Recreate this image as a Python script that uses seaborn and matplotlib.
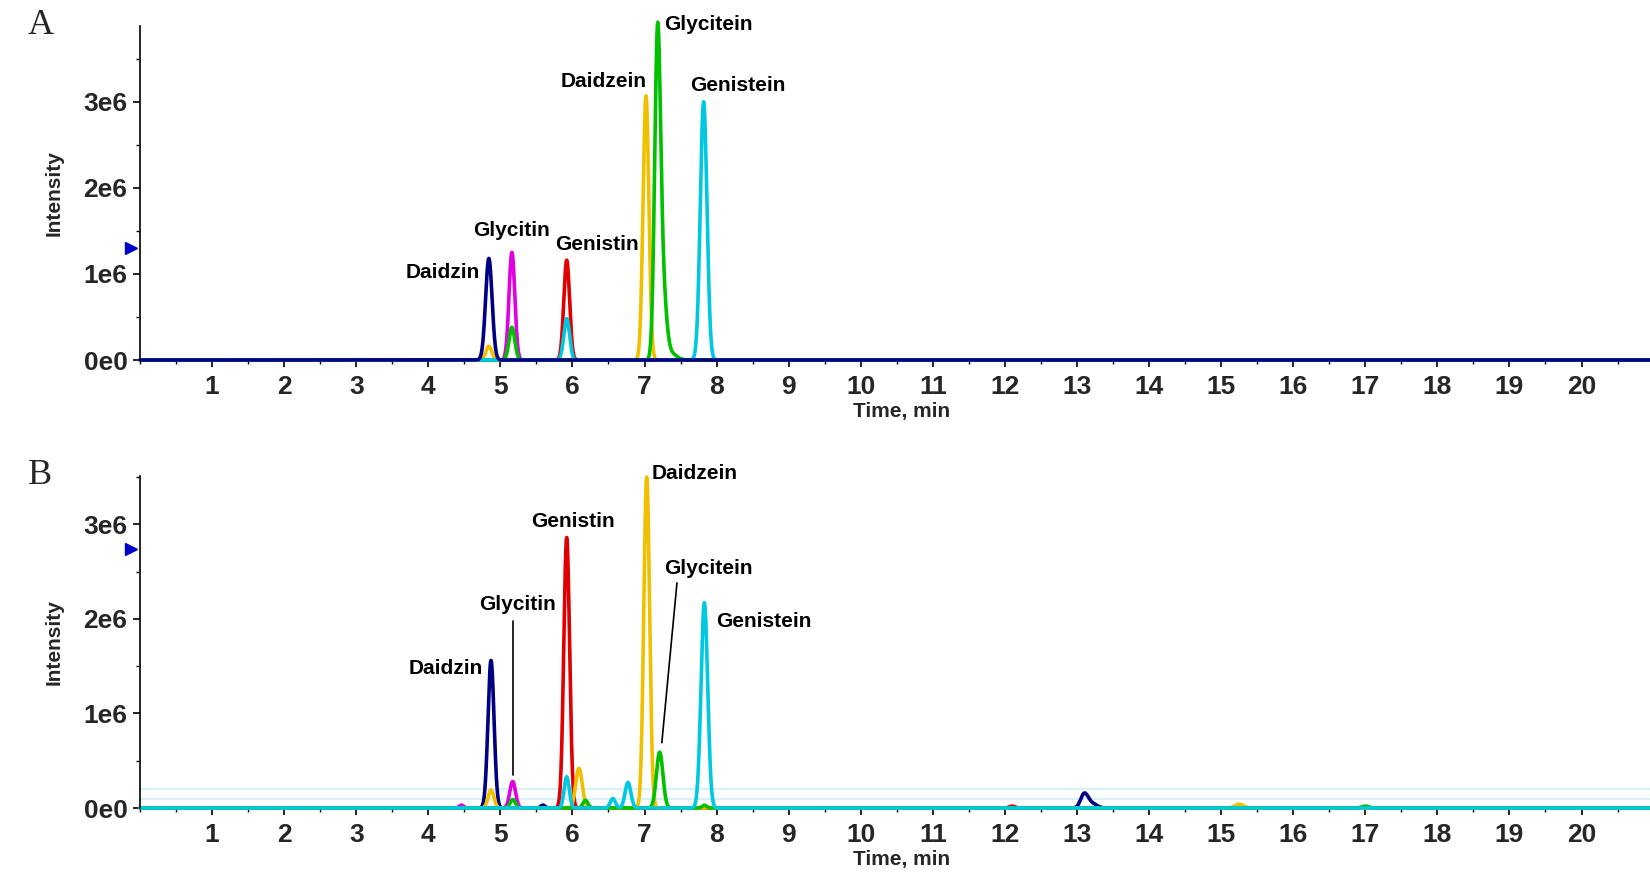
import numpy as np
import pandas as pd
import matplotlib
matplotlib.use("Agg")
import matplotlib.pyplot as plt
import seaborn as sns
from matplotlib.ticker import MultipleLocator

# ---------------- data ----------------
channels = ["Daidzin", "Glycitin", "Genistin", "Daidzein", "Glycitein", "Genistein"]
colors = {"Daidzin": "#000080", "Glycitin": "#e000e0", "Genistin": "#e00000",
          "Daidzein": "#f0c000", "Glycitein": "#00c000", "Genistein": "#00c8e0"}

# peaks per channel: (retention time [min], height, sigma [min])
peaks_A = {
    "Daidzin":   [(4.84, 1.18e6, 0.045)],
    "Glycitin":  [(5.16, 1.25e6, 0.040)],
    "Genistin":  [(5.92, 1.16e6, 0.040)],
    "Daidzein":  [(4.84, 0.16e6, 0.040), (7.02, 3.07e6, 0.040)],
    "Glycitein": [(5.16, 0.38e6, 0.040), (7.18, 3.60e6, 0.040), (7.25, 0.80e6, 0.050),
                  (7.36, 0.08e6, 0.080)],
    "Genistein": [(5.92, 0.48e6, 0.040), (7.82, 3.00e6, 0.046)],
}
peaks_B = {
    "Daidzin":   [(4.87, 1.56e6, 0.042), (5.59, 0.03e6, 0.03), (13.10, 0.14e6, 0.05),
                  (13.20, 0.05e6, 0.07)],
    "Glycitin":  [(4.46, 0.03e6, 0.03), (5.17, 0.28e6, 0.040)],
    "Genistin":  [(5.92, 2.86e6, 0.040), (12.10, 0.02e6, 0.04)],
    "Daidzein":  [(4.87, 0.19e6, 0.040), (6.09, 0.42e6, 0.045), (7.03, 3.50e6, 0.040),
                  (15.25, 0.04e6, 0.06)],
    "Glycitein": [(5.17, 0.09e6, 0.035), (6.18, 0.08e6, 0.035), (7.21, 0.59e6, 0.045),
                  (7.83, 0.03e6, 0.03), (17.00, 0.02e6, 0.05)],
    "Genistein": [(5.92, 0.33e6, 0.035), (6.56, 0.10e6, 0.035), (6.77, 0.27e6, 0.040),
                  (7.83, 2.17e6, 0.046)],
}

# labels: (text, x, y, ha)
labels_A = [("Daidzin", 4.72, 1.02e6, "right"), ("Glycitin", 5.15, 1.51e6, "center"),
            ("Genistin", 6.34, 1.34e6, "center"), ("Daidzein", 6.43, 3.23e6, "center"),
            ("Glycitein", 7.27, 3.90e6, "left"), ("Genistein", 8.30, 3.19e6, "center")]
labels_B = [("Daidzin", 4.76, 1.48e6, "right"), ("Glycitin", 5.24, 2.15e6, "center"),
            ("Genistin", 6.00, 3.03e6, "center"), ("Daidzein", 7.10, 3.54e6, "left"),
            ("Glycitein", 7.88, 2.53e6, "center"), ("Genistein", 8.00, 1.97e6, "left")]
leaders_B = [((5.17, 5.17), (1.98e6, 0.35e6)), ((7.45, 7.24), (2.38e6, 0.69e6))]

x_ticks = list(range(1, 21))
y_ticks = [0, 1e6, 2e6, 3e6]
y_tick_labels = ["0e0", "1e6", "2e6", "3e6"]
arrow_A, arrow_B = 1.30e6, 2.74e6
xmax = 20.95
ylim_A, ylim_B = 3.88e6, 3.51e6

# ---------------- build traces ----------------
t = np.linspace(0, xmax, 9000)

def trace(peaks):
    y = np.zeros_like(t)
    for c, h, s in peaks:
        y += h * np.exp(-0.5 * ((t - c) / s) ** 2)
    return y

def frame(peaks):
    rows = []
    for ch in channels:
        rows.append(pd.DataFrame({"time": t, "intensity": trace(peaks[ch]), "channel": ch}))
    return pd.concat(rows, ignore_index=True)

df_A = frame(peaks_A)
df_B = frame(peaks_B)

# ---------------- style ----------------
sns.set_theme(style="white")
plt.rcParams["font.family"] = ["Liberation Sans", "DejaVu Sans"]

fig = plt.figure(figsize=(16.5, 8.74), dpi=100)
W, H = 1650, 874

def make_ax(top_px, bottom_px):
    return fig.add_axes([140 / W, 1 - bottom_px / H, 1 - 140 / W, (bottom_px - top_px) / H])

ax_A = make_ax(26, 360)
ax_B = make_ax(476, 808)

def draw(ax, df, order, labels, ymax, arrow_y, letter, leaders=None, bands=False):
    if bands:
        for yb in (0.10e6, 0.20e6):
            ax.axhline(yb, color="#d4f2f7", lw=1.5, zorder=0)
    for ch in order:
        sub = df[df["channel"] == ch]
        sns.lineplot(data=sub, x="time", y="intensity", color=colors[ch], lw=2.6,
                     ax=ax, estimator=None, sort=False, legend=False)
    for line in ax.lines:
        line.set_clip_on(False)
    ax.set_xlim(0, xmax)
    ax.set_ylim(0, ymax)
    ax.set_xlabel("Time, min", fontsize=15, fontweight="bold")
    ax.set_ylabel("Intensity", fontsize=15, fontweight="bold", labelpad=14)
    ax.xaxis.set_label_coords(762 / (W - 140), -0.125)
    for s in ("top", "right", "bottom"):
        ax.spines[s].set_visible(False)
    ax.spines["left"].set_color("black")
    ax.spines["left"].set_linewidth(1.2)
    ax.set_xticks(x_ticks)
    ax.xaxis.set_minor_locator(MultipleLocator(0.5))
    ax.set_yticks(y_ticks)
    ax.set_yticklabels(y_tick_labels)
    ax.yaxis.set_minor_locator(MultipleLocator(0.5e6))
    ax.tick_params(axis="both", which="major", direction="out", length=5, width=1.2,
                   color="black", labelsize=19, bottom=True, left=True)
    ax.tick_params(axis="both", which="minor", direction="out", length=3, width=1,
                   color="black", bottom=True, left=True)
    ax.tick_params(axis="x", pad=6)
    ax.tick_params(axis="y", pad=4)
    for lab in ax.get_xticklabels() + ax.get_yticklabels():
        lab.set_fontweight("bold")
    for text, x, y, ha in labels:
        ax.text(x, y, text, ha=ha, va="center", fontsize=15, fontweight="bold",
                color="black", clip_on=False)
    if leaders:
        for xs, ys in leaders:
            ax.plot(xs, ys, color="black", lw=1.2)
    ax.plot([-0.12], [arrow_y], marker=">", color="#0000c8", markersize=8, clip_on=False)
    ax.text(-112 / (W - 140), 1.0, letter, transform=ax.transAxes,
            fontsize=26, family=["Liberation Serif", "DejaVu Serif"], va="center", ha="left")

order_A = ["Glycitin", "Genistin", "Daidzein", "Glycitein", "Genistein", "Daidzin"]
order_B = ["Daidzin", "Glycitin", "Genistin", "Daidzein", "Glycitein", "Genistein"]

draw(ax_A, df_A, order_A, labels_A, ylim_A, arrow_A, "A")
draw(ax_B, df_B, order_B, labels_B, ylim_B, arrow_B, "B", leaders=leaders_B, bands=True)

fig.savefig("out.png", dpi=100, facecolor="white")
